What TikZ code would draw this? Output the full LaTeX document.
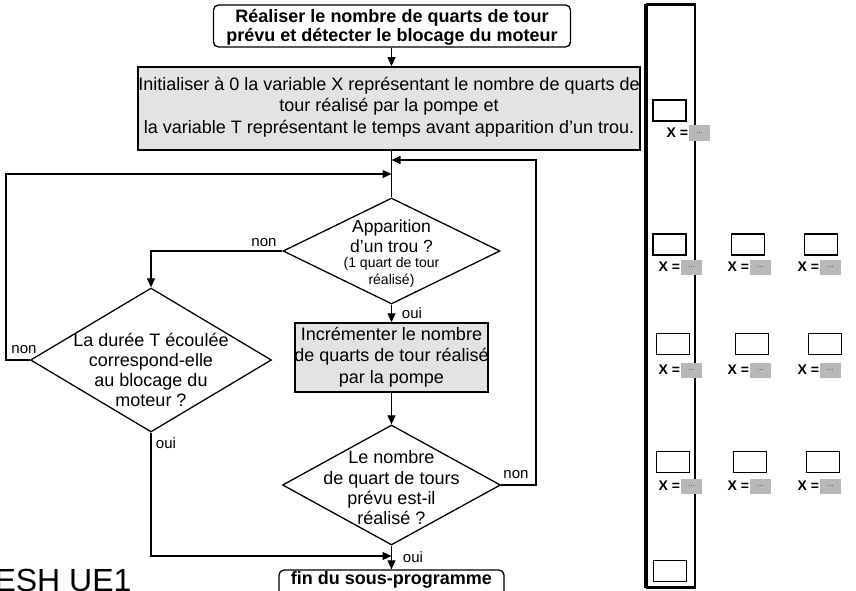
\documentclass[tikz,border=0pt]{standalone}
\usepackage{fontspec}
\setmainfont{Liberation Sans}
\usetikzlibrary{shapes.geometric,arrows.meta,calc}

\begin{document}
\begin{tikzpicture}[x=1pt,y=-1pt,
  line width=1.1pt,
  txt/.style={font=\fontsize{18}{20.5}\selectfont,align=center,inner sep=0},
  lbl/.style={font=\fontsize{15}{16}\selectfont,inner sep=0},
  arr/.style={-{Triangle[length=9pt,width=8pt]}},
  termbox/.style={draw,rounded corners=5pt,line width=1.3pt,inner sep=0},
  procbox/.style={draw,line width=1.8pt,fill=black!11,inner sep=0},
  decision/.style={draw,diamond,line width=1.3pt,inner sep=0},
  slot/.style={draw,line width=1.2pt,minimum width=33pt,minimum height=21pt,inner sep=0},
  xlab/.style={font=\fontsize{14}{16}\bfseries\selectfont,inner sep=0,anchor=west},
  xval/.style={fill=black!28,minimum width=21pt,minimum height=15pt,inner sep=0,anchor=west,
               font=\fontsize{8}{8}\selectfont,text=black!70},
]
\useasboundingbox (0,0) rectangle (856,591);
\clip (0,0) rectangle (856,591);

% ---- terminal and process boxes
\node[termbox,minimum width=357pt,minimum height=42pt] (start) at (392,26) {};
\node[txt,font=\fontsize{18}{19}\bfseries\selectfont] (startt) at (392,27)
  {Réaliser le nombre de quarts de tour\\prévu et détecter le blocage du moteur};

\node[procbox,minimum width=502pt,minimum height=83pt] (init) at (389,108.5) {};
\node[txt,font=\fontsize{18}{21.5}\selectfont] (initt) at (389,107)
  {Initialiser à 0 la variable X représentant le nombre de quarts de\\
   tour réalisé par la pompe et\\
   la variable T représentant le temps avant apparition d'un trou.};

% ---- decisions
\node[decision,minimum width=217pt,minimum height=106pt] (d1) at (391.5,251) {};
\node[txt,font=\fontsize{17.5}{20}\selectfont] (d1t) at (391.5,236) {Apparition\\d'un trou ?};
\node[txt,font=\fontsize{14}{17}\selectfont] (d1s) at (391.5,272) {(1 quart de tour\\réalisé)};

\node[decision,minimum width=241pt,minimum height=144pt] (d3) at (151,360) {};
\node[txt,font=\fontsize{18}{20}\selectfont] (d3t) at (151,370)
  {La durée T écoulée\\correspond-elle\\au blocage du\\moteur ?};

\node[procbox,line width=1.5pt,minimum width=193pt,minimum height=69pt] (inc) at (391.5,357.5) {};
\node[txt,font=\fontsize{18}{21.5}\selectfont] (inct) at (391.5,357)
  {Incrémenter le nombre\\de quarts de tour réalisé\\par la pompe};

\node[decision,minimum width=218pt,minimum height=120pt] (d2) at (391.5,485) {};
\node[txt,font=\fontsize{18}{20.3}\selectfont] (d2t) at (391.5,488)
  {Le nombre\\de quart de tours\\prévu est-il\\réalisé ?};

\node[termbox,minimum width=225pt,minimum height=40pt] (fin) at (391.5,590) {};
\node[txt,font=\fontsize{18}{20}\bfseries\selectfont] (fint) at (391.5,580) {fin du sous-programme};

% ---- junction points and loop rails
\coordinate (m1) at (391.5,160);
\coordinate (m2) at (391.5,174);
\coordinate (m3) at (391.5,556);
\coordinate (rx) at (536,0);
\coordinate (lx) at (6,0);

% ---- connectors
\draw[arr] (start.south -| d1.north) -- (d1.north |- init.north);
\draw (init.south -| d1.north) -- (d1.north);
\draw[arr] (d1.west) -| (d3.north);
\draw[arr] (d1.south) -- (d1.south |- inc.north);
\draw[arr] (inc.south -| d2.north) -- (d2.north);
\draw[arr] (d2.south) -- (d2.south |- fin.north);
\draw[arr] (d2.east) -- (d2.east -| rx) |- (m1);
\draw[arr] (d3.west) -- (d3.west -| lx) |- (m2);
\draw[arr] (d3.south) |- (m3);

% ---- branch labels
\node[lbl] (l1) at (264,243) {non};
\node[lbl] (l2) at (412,313) {oui};
\node[lbl] (l3) at (24,350) {non};
\node[lbl] (l4) at (166,443) {oui};
\node[lbl] (l5) at (516,475) {non};
\node[lbl] (l6) at (413,557) {oui};

% ---- handwritten note
\node[anchor=north west,inner sep=0,font=\fontsize{32}{32}\selectfont] (note) at (-6,569) {ESH UE1};

% ---- side column of counters
\node[draw,line width=1.8pt,minimum width=48pt,minimum height=582pt,inner sep=0] (panel) at (671,296) {};
\draw[line width=4pt] (panel.north west) -- (panel.south west);
\draw[line width=3pt] (panel.north west) -- (panel.north east);
\draw[line width=3pt] (panel.south west) -- (panel.south east);

% row 0
\node[slot] (s00) at (669.5,110.5) {};
\node[xlab] (x00) at (666,133) {X =};
\node[xval] (v00) at (x00.east) {...};
% row 1
\node[slot] (s10) at (669.5,244.5) {};
\node[slot] (s11) at (748,244.5) {};
\node[slot] (s12) at (821,244.5) {};
\node[xlab] (x10) at (658,267) {X =};
\node[xval] (v10) at (x10.east) {...};
\node[xlab] (x11) at (727,267) {X =};
\node[xval] (v11) at (x11.east) {...};
\node[xlab] (x12) at (797,267) {X =};
\node[xval] (v12) at (x12.east) {...};
% row 2
\node[slot] (s20) at (673,344) {};
\node[slot] (s21) at (752,344) {};
\node[slot] (s22) at (825,344) {};
\node[xlab] (x20) at (658,370) {X =};
\node[xval] (v20) at (x20.east) {...};
\node[xlab] (x21) at (727,370) {X =};
\node[xval] (v21) at (x21.east) {...};
\node[xlab] (x22) at (797,370) {X =};
\node[xval] (v22) at (x22.east) {...};
% row 3
\node[slot] (s30) at (673,462) {};
\node[slot] (s31) at (750,462) {};
\node[slot] (s32) at (823,462) {};
\node[xlab] (x30) at (658,486) {X =};
\node[xval] (v30) at (x30.east) {...};
\node[xlab] (x31) at (727,486) {X =};
\node[xval] (v31) at (x31.east) {...};
\node[xlab] (x32) at (797,486) {X =};
\node[xval] (v32) at (x32.east) {...};
% row 4
\node[slot] (s40) at (670,571) {};
\end{tikzpicture}
\end{document}
